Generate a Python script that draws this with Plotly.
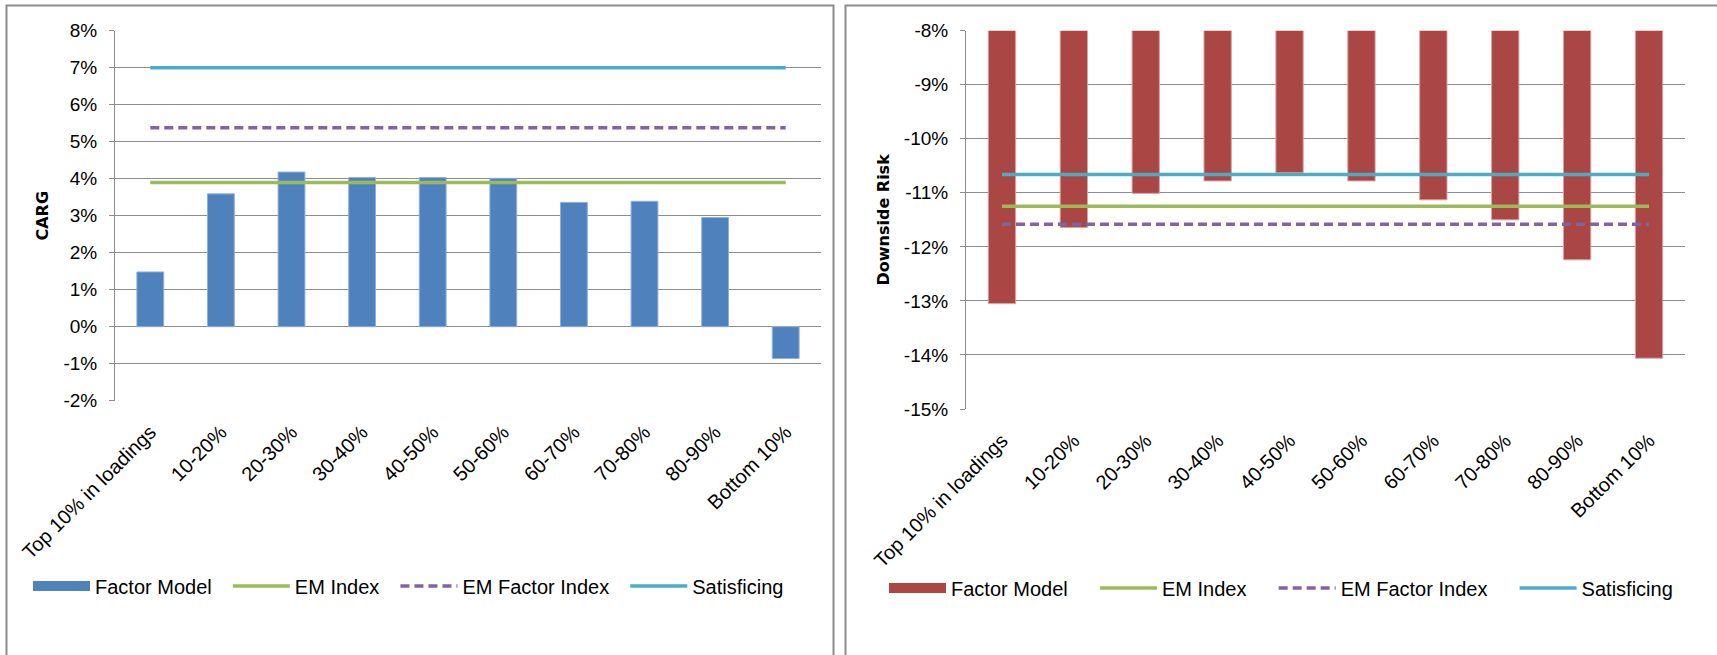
import plotly.graph_objects as go

# Decile buckets sorted by factor loading
categories = ["Top 10% in loadings", "10-20%", "20-30%", "30-40%", "40-50%",
              "50-60%", "60-70%", "70-80%", "80-90%", "Bottom 10%"]

# Compound annual growth by bucket
carg_factor_model = [0.0148, 0.0359, 0.0418, 0.0403, 0.0403,
                     0.0401, 0.0336, 0.0339, 0.0295, -0.0086]
carg_em_index = 0.0390
carg_em_factor_index = 0.0538
carg_satisficing = 0.0700
carg_ticks = [-0.02, -0.01, 0.0, 0.01, 0.02, 0.03, 0.04, 0.05, 0.06, 0.07, 0.08]
carg_tick_labels = ["-2%", "-1%", "0%", "1%", "2%", "3%", "4%", "5%", "6%", "7%", "8%"]

# Downside risk by bucket
risk_factor_model = [-0.1305, -0.1164, -0.1101, -0.1078, -0.1063,
                     -0.1078, -0.1113, -0.1150, -0.1224, -0.1406]
risk_em_index = -0.1125
risk_em_factor_index = -0.1158
risk_satisficing = -0.1066
risk_ticks = [-0.15, -0.14, -0.13, -0.12, -0.11, -0.10, -0.09, -0.08]
risk_tick_labels = ["-15%", "-14%", "-13%", "-12%", "-11%", "-10%", "-9%", "-8%"]

W, H = 1717, 655
BLUE = "#4F81BD"
RED = "#AA4643"
GREEN = "#9BBB59"
PURPLE = "#8064A2"
TEAL = "#4BACC6"
GRID = "#8C8C8C"
FONT = "Liberation Sans"
NBSP = "\u00a0"


def px_x(v):
    return v / W


def px_y(v):
    return 1 - v / H


fig = go.Figure()


def add_panel(xa, ya, legend, pad, values, bar_color, bar_line, em, emf, sat):
    ends = [categories[0], categories[-1]]
    tail = NBSP * pad
    # proxy entry so the legend shows a wide swatch for the bars
    fig.add_trace(go.Scatter(x=[None], y=[None], mode="lines", name="Factor Model" + tail,
                             line=dict(color=bar_color, width=12), legend=legend,
                             xaxis=xa, yaxis=ya, hoverinfo="skip"))
    fig.add_trace(go.Bar(x=categories, y=values, name="Factor Model", showlegend=False,
                         marker=dict(color=bar_color, line=dict(color=bar_line, width=1)),
                         xaxis=xa, yaxis=ya))
    fig.add_trace(go.Scatter(x=ends, y=[em, em], mode="lines", name="EM Index" + tail,
                             line=dict(color=GREEN, width=3.5), legend=legend,
                             xaxis=xa, yaxis=ya))
    fig.add_trace(go.Scatter(x=ends, y=[emf, emf], mode="lines", name="EM Factor Index" + tail,
                             line=dict(color=PURPLE, width=3.5, dash="9px,5px"), legend=legend,
                             xaxis=xa, yaxis=ya))
    fig.add_trace(go.Scatter(x=ends, y=[sat, sat], mode="lines", name="Satisficing",
                             line=dict(color=TEAL, width=3.5), legend=legend,
                             xaxis=xa, yaxis=ya))


add_panel("x", "y", "legend", 2, carg_factor_model, BLUE, "#8FAFDA",
          carg_em_index, carg_em_factor_index, carg_satisficing)
add_panel("x2", "y2", "legend2", 4, risk_factor_model, RED, "#D9A3A2",
          risk_em_index, risk_em_factor_index, risk_satisficing)

tick_font = dict(family=FONT, size=19, color="#000000")
title_font = dict(family="DejaVu Sans", size=16, color="#000000")
legend_font = dict(family=FONT, size=20, color="#000000")

xaxis_common = dict(type="category", tickangle=-45, tickfont=dict(family=FONT, size=20, color="#000000"),
                    showgrid=False, showline=False, ticks="", ticklabelstandoff=15,
                    zeroline=False, fixedrange=True, automargin=False)
yaxis_common = dict(tickfont=tick_font,
                    showgrid=True, gridcolor=GRID, gridwidth=1,
                    showline=True, linecolor=GRID, linewidth=1,
                    ticks="outside", ticklen=5, tickcolor=GRID, ticklabelstandoff=8,
                    zeroline=False, fixedrange=True, automargin=False)

fig.update_layout(
    width=W, height=H,
    margin=dict(l=0, r=0, t=0, b=0, autoexpand=False),
    paper_bgcolor="white", plot_bgcolor="white",
    bargap=0.62,
    xaxis=dict(domain=[px_x(115), px_x(821)], anchor="y", **xaxis_common),
    yaxis=dict(domain=[px_y(400.7), px_y(30.7)], anchor="x", range=[-0.02, 0.08],
               tickvals=carg_ticks, ticktext=carg_tick_labels,
               title=dict(text="<b>CARG</b>", font=title_font, standoff=10), **yaxis_common),
    xaxis2=dict(domain=[px_x(966), px_x(1685)], anchor="y2", **xaxis_common),
    yaxis2=dict(domain=[px_y(409), px_y(30.7)], anchor="x2", range=[-0.15, -0.08],
                tickvals=risk_ticks, ticktext=risk_tick_labels,
                title=dict(text="<b>Downside Risk</b>", font=title_font, standoff=10), **yaxis_common),
    legend=dict(orientation="h", x=px_x(28), xanchor="left", y=px_y(586), yanchor="middle",
                itemwidth=57, font=legend_font,
                bgcolor="rgba(0,0,0,0)", traceorder="normal"),
    legend2=dict(orientation="h", x=px_x(884), xanchor="left", y=px_y(588), yanchor="middle",
                 itemwidth=57, font=legend_font,
                 bgcolor="rgba(0,0,0,0)", traceorder="normal"),
    showlegend=True,
    shapes=[
        # chart frames
        dict(type="rect", xref="paper", yref="paper",
             x0=px_x(6.5), x1=px_x(833.5), y0=px_y(700), y1=px_y(5.5),
             line=dict(color="#8C8C8C", width=2), fillcolor="rgba(0,0,0,0)", layer="below"),
        dict(type="rect", xref="paper", yref="paper",
             x0=px_x(845.5), x1=px_x(1760), y0=px_y(700), y1=px_y(5.5),
             line=dict(color="#8C8C8C", width=2), fillcolor="rgba(0,0,0,0)", layer="below"),
    ],
)

fig.write_html("out.html")
